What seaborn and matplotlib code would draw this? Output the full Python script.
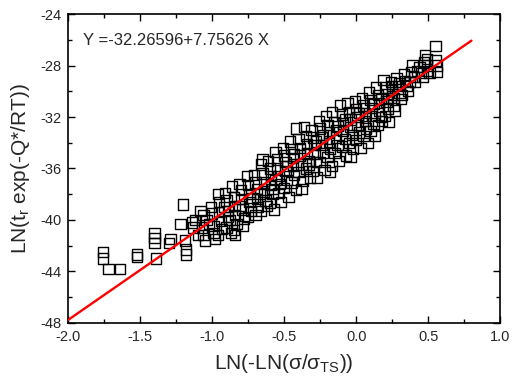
import numpy as np
import pandas as pd
import matplotlib
matplotlib.use("Agg")
import matplotlib.pyplot as plt
import seaborn as sns
from matplotlib.ticker import MultipleLocator

# ---- data ----
x_vals = [
    -1.76, -1.76, -1.72, -1.64, -1.52, -1.52, -1.40, -1.40, -1.40, -1.39,
    -1.22, -1.20, -1.19, -1.18, -1.18, -1.29, -1.30,
    -1.14, -1.12, -1.13, -1.10,
    -1.08, -1.06, -1.07, -1.06, -1.05, -1.04,
    -1.01, -1.00, -0.99, -0.99, -0.98, -1.02,
    -0.96, -0.95, -0.95, -0.94, -0.93, -0.96, -0.92,
    -0.91, -0.90, -0.89, -0.88, -0.90, -0.87, -0.89,
    -0.86, -0.85, -0.84, -0.84, -0.83, -0.84, -0.85,
    -0.81, -0.80, -0.80, -0.79, -0.78, -0.79, -0.81,
    -0.76, -0.75, -0.74, -0.74, -0.73, -0.75, -0.72,
    -0.71, -0.70, -0.69, -0.69, -0.68, -0.70, -0.67,
    -0.66, -0.65, -0.65, -0.64, -0.64, -0.63, -0.66, -0.62,
    -0.61, -0.60, -0.59, -0.59, -0.58, -0.60, -0.57, -0.58,
    -0.56, -0.55, -0.55, -0.54, -0.53, -0.54, -0.52, -0.56,
    -0.51, -0.50, -0.49, -0.49, -0.48, -0.50, -0.47, -0.48,
    -0.46, -0.45, -0.44, -0.44, -0.43, -0.45, -0.42, -0.43,
    -0.42, -0.40, -0.39, -0.39, -0.38, -0.40, -0.37, -0.38,
    -0.36, -0.35, -0.34, -0.34, -0.33, -0.35, -0.32, -0.33,
    -0.31, -0.30, -0.29, -0.29, -0.28, -0.30, -0.27, -0.28,
    -0.26, -0.25, -0.24, -0.24, -0.23, -0.25, -0.22, -0.23,
    -0.21, -0.20, -0.19, -0.19, -0.18, -0.20, -0.17, -0.18,
    -0.17, -0.15, -0.14, -0.14, -0.13, -0.15, -0.12, -0.13,
    -0.11, -0.10, -0.09, -0.09, -0.08, -0.10, -0.07, -0.08,
    -0.06, -0.05, -0.04, -0.04, -0.03, -0.05, -0.02, -0.04,
    -0.01, 0.00, 0.01, 0.01, 0.02, 0.00, 0.03, 0.02,
    0.04, 0.05, 0.06, 0.06, 0.07, 0.05, 0.08, 0.07,
    0.09, 0.10, 0.11, 0.11, 0.12, 0.10, 0.13, 0.12,
    0.14, 0.15, 0.16, 0.16, 0.17, 0.15, 0.18, 0.17,
    0.19, 0.20, 0.21, 0.21, 0.22, 0.20, 0.23, 0.22,
    0.24, 0.25, 0.26, 0.26, 0.27, 0.25,
    0.28, 0.29, 0.30, 0.31, 0.32, 0.30,
    0.33, 0.34, 0.35, 0.36, 0.37,
    0.38, 0.39, 0.40, 0.41, 0.42,
    0.44, 0.45, 0.46, 0.47,
    0.48, 0.49, 0.49, 0.50, 0.51,
    0.55, 0.55, 0.56, 0.56,
]
y_vals = [
    -42.5, -43.0, -43.8, -43.8, -42.7, -42.9, -41.0, -41.4, -41.8, -43.0,
    -40.3, -38.8, -41.6, -42.3, -42.7, -41.5, -41.8,
    -40.2, -40.0, -40.6, -41.2,
    -39.3, -39.6, -40.6, -41.2, -41.6, -40.0,
    -39.0, -39.5, -40.5, -41.0, -41.5, -40.3,
    -38.0, -38.6, -39.4, -40.1, -40.7, -41.2, -39.0,
    -37.9, -38.5, -39.3, -40.0, -40.6, -41.0, -39.8,
    -37.4, -38.2, -38.9, -39.6, -40.3, -41.2, -40.8,
    -37.2, -37.7, -38.4, -39.2, -39.9, -40.5, -38.9,
    -36.6, -37.3, -38.0, -38.6, -39.3, -39.8, -38.3,
    -36.5, -37.1, -37.6, -38.4, -39.0, -39.6, -38.0,
    -35.7, -35.3, -36.4, -37.1, -37.8, -38.5, -39.3, -38.9,
    -35.4, -36.0, -36.6, -37.3, -38.0, -38.7, -39.2, -37.6,
    -34.7, -35.3, -36.0, -36.6, -37.2, -37.9, -38.6, -36.9,
    -34.4, -35.0, -35.5, -36.2, -36.9, -37.5, -38.2, -35.8,
    -33.9, -34.5, -35.2, -35.8, -36.5, -37.1, -37.7, -34.9,
    -32.9, -33.7, -34.4, -35.0, -35.7, -36.3, -37.0, -37.6,
    -32.8, -33.5, -34.1, -34.8, -35.4, -36.0, -36.7, -35.7,
    -33.0, -33.6, -34.2, -34.9, -35.5, -36.2, -36.7, -33.9,
    -32.3, -32.9, -33.6, -34.2, -34.8, -35.5, -36.1, -33.4,
    -31.9, -32.6, -33.2, -33.9, -34.5, -35.1, -35.8, -36.3,
    -31.6, -32.4, -33.0, -33.6, -34.2, -34.8, -35.4, -32.7,
    -31.1, -31.8, -32.5, -33.1, -33.7, -34.3, -35.0, -32.2,
    -30.9, -31.6, -32.2, -32.8, -33.4, -34.0, -34.5, -35.1,
    -30.8, -31.4, -32.0, -32.6, -33.2, -33.8, -34.4, -31.7,
    -30.5, -31.1, -31.7, -32.3, -32.9, -33.5, -34.0, -31.9,
    -30.1, -30.7, -31.3, -31.9, -32.5, -33.1, -33.5, -31.0,
    -29.7, -30.3, -30.9, -31.5, -32.0, -32.6, -32.3, -30.6,
    -29.1, -29.7, -30.2, -30.8, -31.4, -31.9, -32.4, -30.5,
    -29.3, -29.9, -30.5, -31.1, -31.5, -29.6,
    -29.0, -29.6, -30.1, -30.6, -30.3, -29.4,
    -28.7, -29.2, -29.6, -30.0, -29.3,
    -28.5, -28.0, -28.9, -29.3, -28.4,
    -28.1, -28.6, -28.9, -27.7,
    -27.2, -27.5, -28.0, -28.4, -28.6,
    -26.5, -27.6, -28.0, -28.5,
]
fit_intercept = -32.26596
fit_slope = 7.75626
fit_x_range = [-2.0, 0.8]
x_ticks = [-2.0, -1.5, -1.0, -0.5, 0.0, 0.5, 1.0]
y_ticks = [-48, -44, -40, -36, -32, -28, -24]

df = pd.DataFrame({"x": x_vals, "y": y_vals})
fx = np.array(fit_x_range)
fit_df = pd.DataFrame({"x": fx, "y": fit_intercept + fit_slope * fx})

sns.set_style("ticks")
plt.rcParams["font.family"] = ["Liberation Sans", "DejaVu Sans"]
plt.rcParams["mathtext.fontset"] = "custom"
plt.rcParams["mathtext.rm"] = "Liberation Sans"
plt.rcParams["mathtext.it"] = "Liberation Sans"

fig = plt.figure(figsize=(5.12, 3.82), dpi=100)
ax = fig.add_axes([0.133, 0.155, 0.844, 0.808])

sns.scatterplot(data=df, x="x", y="y", marker="s", s=55,
                facecolors="none", edgecolor="black", linewidth=1.0,
                ax=ax, legend=False, zorder=2)
sns.lineplot(data=fit_df, x="x", y="y", color="#ff0000", linewidth=1.7,
             ax=ax, zorder=3)

ax.set_xlim(-2.0, 1.0)
ax.set_ylim(-48, -24)
ax.set_xticks(x_ticks)
ax.set_yticks(y_ticks)
ax.set_xticklabels([f"{t:.1f}" for t in x_ticks])
ax.set_yticklabels([f"{t:d}" for t in y_ticks])
ax.xaxis.set_minor_locator(MultipleLocator(0.25))
ax.yaxis.set_minor_locator(MultipleLocator(2))
ax.tick_params(which="both", direction="in", top=True, right=True,
               labelsize=10.5, width=1.0, color="black", pad=5)
ax.tick_params(which="major", length=5)
ax.tick_params(which="minor", length=3)
for sp in ax.spines.values():
    sp.set_linewidth(1.2)
    sp.set_color("black")

ax.set_xlabel(r"LN(-LN($\sigma$/$\sigma_{\mathrm{TS}}$))", fontsize=15, labelpad=6)
ax.set_ylabel(r"LN(t$_{\mathrm{r}}$ exp(-Q*/RT))", fontsize=15, labelpad=6)

ax.text(0.035, 0.915, "Y =-32.26596+7.75626 X", transform=ax.transAxes,
        fontsize=12, ha="left", va="center")

fig.savefig("out.png", dpi=100)
